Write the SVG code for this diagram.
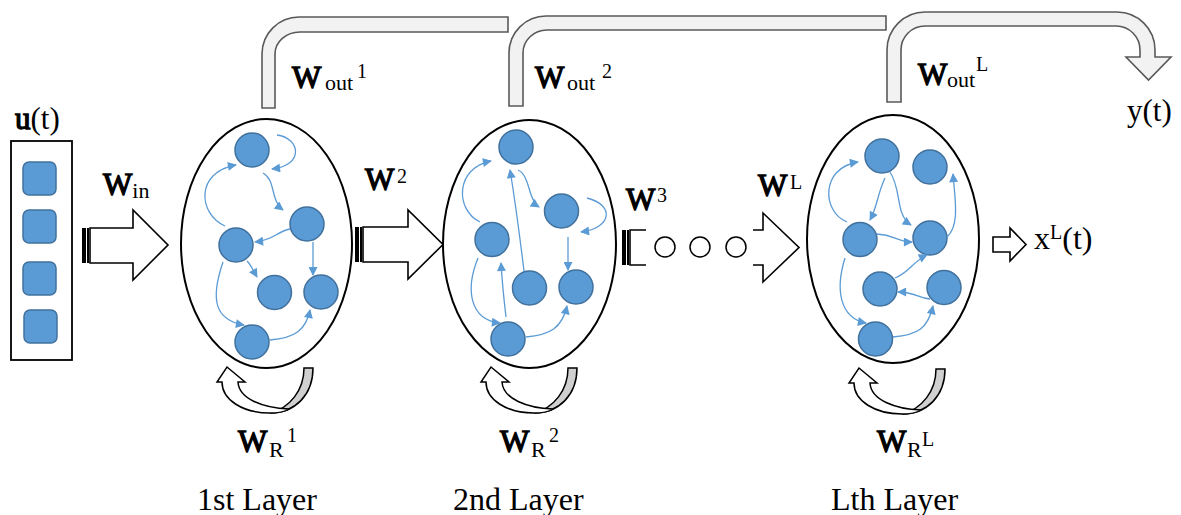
<svg xmlns="http://www.w3.org/2000/svg" width="1181" height="515" viewBox="0 0 1181 515">
  <style>
    text { font-family: "Liberation Serif", "Times New Roman", serif; fill: #000; }
    .lbl { font-size: 31px; }
    .b { font-weight: normal; stroke: #000; stroke-width: 1.3px; }
    .sub { font-size: 22px; }
    .sup { font-size: 20px; }
    .layer { font-size: 32px; }
    .cell { fill: #5b9bd5; stroke: #41719c; stroke-width: 1.5; }
    .res { fill: none; stroke: #000; stroke-width: 2; }
    .edge { fill: none; stroke: #5b9bd5; stroke-width: 1.3; marker-end: url(#ah); }
    .block { fill: #fff; stroke: #000; stroke-width: 1.6; stroke-linejoin: miter; }
    .out { fill: #f2f2f2; stroke: #595959; stroke-width: 1.6; }
    .loopw { fill: #fff; stroke: #000; stroke-width: 1.5; stroke-linejoin: miter; }
    .loopg { fill: #d0d0d0; stroke: #000; stroke-width: 1.5; }
  </style>
  <defs>
    <marker id="ah" viewBox="0 0 10 10" refX="9" refY="5" markerWidth="10" markerHeight="9" markerUnits="userSpaceOnUse" orient="auto">
      <path d="M0,0 L10,5 L0,10 Z" fill="#5b9bd5"/>
    </marker>
    <!-- recurrent self-connection arrow under a reservoir -->
    <g id="loop">
      <path class="loopg" d="M304,368 L313,368 C313,395 295,413 270,413 C290,408 304,390 304,368 Z"/>
      <path class="loopw" d="M222,382 C222,400 243,413 270,413 C280,413 286,411 289,409 C263,408 239,399 238,382 L245,382 L227,367 L217,382 Z"/>
    </g>
    <!-- stripes at the tail of a block arrow -->
    <g id="stripes">
      <rect x="0" y="0" width="4" height="35" fill="#000"/>
      <rect x="5" y="0" width="2" height="35" fill="#000"/>
    </g>
  </defs>

  <!-- input vector -->
  <g id="input">
    <rect x="11" y="141" width="61" height="219" fill="#fff" stroke="#000" stroke-width="1.8"/>
    <rect class="cell" x="23" y="162" width="33" height="33" rx="6"/>
    <rect class="cell" x="23" y="210" width="33" height="33" rx="6"/>
    <rect class="cell" x="23" y="262" width="33" height="33" rx="6"/>
    <rect class="cell" x="24" y="310" width="33" height="33" rx="6"/>
    <text class="lbl" x="15" y="129"><tspan class="b">u</tspan>(t)</text>
  </g>

  <!-- output read-out arrows -->
  <g id="readouts">
    <path class="out" d="M262,108 L262,54 A37,37 0 0 1 299,17 L508,17 L508,32 L300,32 A25,22 0 0 0 275,54 L275,108 Z"/>
    <path class="out" d="M509,106 L509,53 A37,37 0 0 1 546,16 L886,16 L886,30 L547,30 A24,23 0 0 0 523,53 L523,106 Z"/>
    <path class="out" d="M887,102 L887,50 A38,38 0 0 1 925,12 L1117,12 A38,38 0 0 1 1155,50 L1155,57 L1171,57 L1148.5,80 L1126,57 L1140,57 L1140,50 A24,24 0 0 0 1116,26 L925,26 A24,24 0 0 0 901,50 L901,102 Z"/>
    <text class="lbl b" x="292" y="88">W</text>
    <text class="sub" x="325" y="90">out</text>
    <text class="sup" x="357" y="78">1</text>
    <text class="lbl b" x="535" y="88">W</text>
    <text class="sub" x="567" y="90">out</text>
    <text class="sup" x="602" y="78">2</text>
    <text class="lbl b" x="918" y="85">W</text>
    <text class="sub" x="947" y="87">out</text>
    <text class="sup" x="976" y="71">L</text>
    <text class="lbl" x="1127" y="121">y(t)</text>
  </g>

  <!-- layer 1 -->
  <g id="layer1">
    <ellipse class="res" cx="266.5" cy="243.5" rx="85.5" ry="124.5"/>
    <circle class="cell" cx="252" cy="150" r="17"/>
    <circle class="cell" cx="307" cy="224" r="17"/>
    <circle class="cell" cx="236" cy="245" r="17"/>
    <circle class="cell" cx="274.5" cy="292.5" r="17"/>
    <circle class="cell" cx="321" cy="292" r="17"/>
    <circle class="cell" cx="252" cy="342" r="17"/>
  </g>

  <!-- layer 2 -->
  <g id="layer2">
    <ellipse class="res" cx="529.5" cy="244" rx="86.5" ry="124"/>
    <circle class="cell" cx="516" cy="147" r="17"/>
    <circle class="cell" cx="561.5" cy="211" r="17"/>
    <circle class="cell" cx="492" cy="239.5" r="17"/>
    <circle class="cell" cx="529.5" cy="288" r="17"/>
    <circle class="cell" cx="576" cy="287" r="17"/>
    <circle class="cell" cx="508" cy="339" r="17"/>
  </g>

  <!-- layer L -->
  <g id="layerL">
    <ellipse class="res" cx="893" cy="239" rx="86" ry="124"/>
    <circle class="cell" cx="882" cy="156" r="17"/>
    <circle class="cell" cx="930" cy="167" r="17"/>
    <circle class="cell" cx="860" cy="239.5" r="17"/>
    <circle class="cell" cx="930" cy="238" r="17"/>
    <circle class="cell" cx="880" cy="289" r="17"/>
    <circle class="cell" cx="944" cy="287.5" r="17"/>
    <circle class="cell" cx="875.5" cy="339" r="17"/>
  </g>

  <!-- connectors -->
  <g id="connectors">
    <!-- layer 1 internal -->
    <path class="edge" d="M277,135 C300,138 305,165 272,169"/>
    <path class="edge" d="M225,226 C198,214 195,172 236,165"/>
    <path class="edge" d="M263,173 C276,180 270,200 283,210"/>
    <path class="edge" d="M290,229 C276,232 274,240 255,242"/>
    <path class="edge" d="M313,242 L313,275"/>
    <path class="edge" d="M247,261 C251,265 253,270 257,277"/>
    <path class="edge" d="M223,262 C210,300 215,320 244,325"/>
    <path class="edge" d="M270,340 C295,338 306,330 310,310"/>
    <!-- layer 2 internal -->
    <path class="edge" d="M480,222 C455,210 455,168 491,161"/>
    <path class="edge" d="M524,271 C519,230 515,200 510,170"/>
    <path class="edge" d="M518,170 C530,175 528,200 539,207"/>
    <path class="edge" d="M587,198 C615,205 612,228 581,232"/>
    <path class="edge" d="M568,237 L568,270"/>
    <path class="edge" d="M478,258 C465,290 470,320 500,323"/>
    <path class="edge" d="M506,317 C504,300 502,280 501,263"/>
    <path class="edge" d="M526,337 C550,335 562,328 567,306"/>
    <!-- layer L internal -->
    <path class="edge" d="M847,222 C822,212 820,168 858,162"/>
    <path class="edge" d="M885,178 C877,195 878,205 870,220"/>
    <path class="edge" d="M890,172 C902,190 895,215 911,225"/>
    <path class="edge" d="M877,234 C895,235 897,242 912,242"/>
    <path class="edge" d="M947,237 C960,225 955,200 953,174"/>
    <path class="edge" d="M895,278 C910,272 912,262 927,255"/>
    <path class="edge" d="M930,299 C918,298 915,292 898,292"/>
    <path class="edge" d="M845,258 C835,290 840,318 866,323"/>
    <path class="edge" d="M893,337 C918,335 928,328 933,306"/>

    <!-- inter-layer weights -->
    <use href="#stripes" x="82" y="228"/>
    <path class="block" d="M90,228 L133,228 L133,210 L168,245 L133,280 L133,263 L90,263 Z"/>
    <text class="lbl" x="103" y="195"><tspan class="b">W</tspan><tspan class="sub" dy="3">in</tspan></text>

    <use href="#stripes" x="355" y="227"/>
    <path class="block" d="M363,227 L408,227 L408,210 L443,244.5 L408,279 L408,262 L363,262 Z"/>
    <text class="lbl b" x="365" y="190">W</text>
    <text class="sup" x="397" y="183" font-size="18">2</text>

    <use href="#stripes" x="622" y="230"/>
    <path class="block" d="M646,230 L630,230 L630,265 L646,265" fill="none"/>
    <text class="lbl b" x="626" y="210">W</text>
    <text class="sup" x="657" y="202" font-size="18">3</text>

    <circle cx="665" cy="247" r="10" fill="none" stroke="#000" stroke-width="1.5"/>
    <circle cx="700" cy="247" r="10" fill="none" stroke="#000" stroke-width="1.5"/>
    <circle cx="736" cy="247" r="10" fill="none" stroke="#000" stroke-width="1.5"/>

    <path class="block" d="M753,230 L763,230 L763,213 L799,247.5 L763,282 L763,265 L753,265"/>
    <text class="lbl b" x="758" y="196">W</text>
    <text class="sup" x="790" y="189" font-size="18">L</text>

    <path class="block" stroke-width="1.1" d="M993,237 L1010,237 L1010,228 L1026,244.5 L1010,261 L1010,252 L993,252 Z"/>
    <text font-size="32" x="1034" y="249">x<tspan font-size="20" dy="-10">L</tspan><tspan dy="10">(t)</tspan></text>

    <!-- recurrent weights -->
    <use href="#loop"/>
    <use href="#loop" x="264"/>
    <use href="#loop" x="632" y="1"/>
  </g>

  <!-- recurrent weight labels and layer captions -->
  <g id="captions">
    <text class="lbl b" x="238" y="452">W</text>
    <text class="sub" x="269" y="457">R</text>
    <text class="sup" x="287" y="442">1</text>
    <text class="lbl b" x="500" y="452">W</text>
    <text class="sub" x="531" y="457">R</text>
    <text class="sup" x="549" y="442">2</text>
    <text class="lbl b" x="877" y="452">W</text>
    <text class="sub" x="907" y="457">R</text>
    <text class="sup" x="922" y="446">L</text>
    <text class="layer" x="197" y="510">1st Layer</text>
    <text class="layer" x="453" y="510">2nd Layer</text>
    <text class="layer" x="831" y="510">Lth Layer</text>
  </g>
</svg>
